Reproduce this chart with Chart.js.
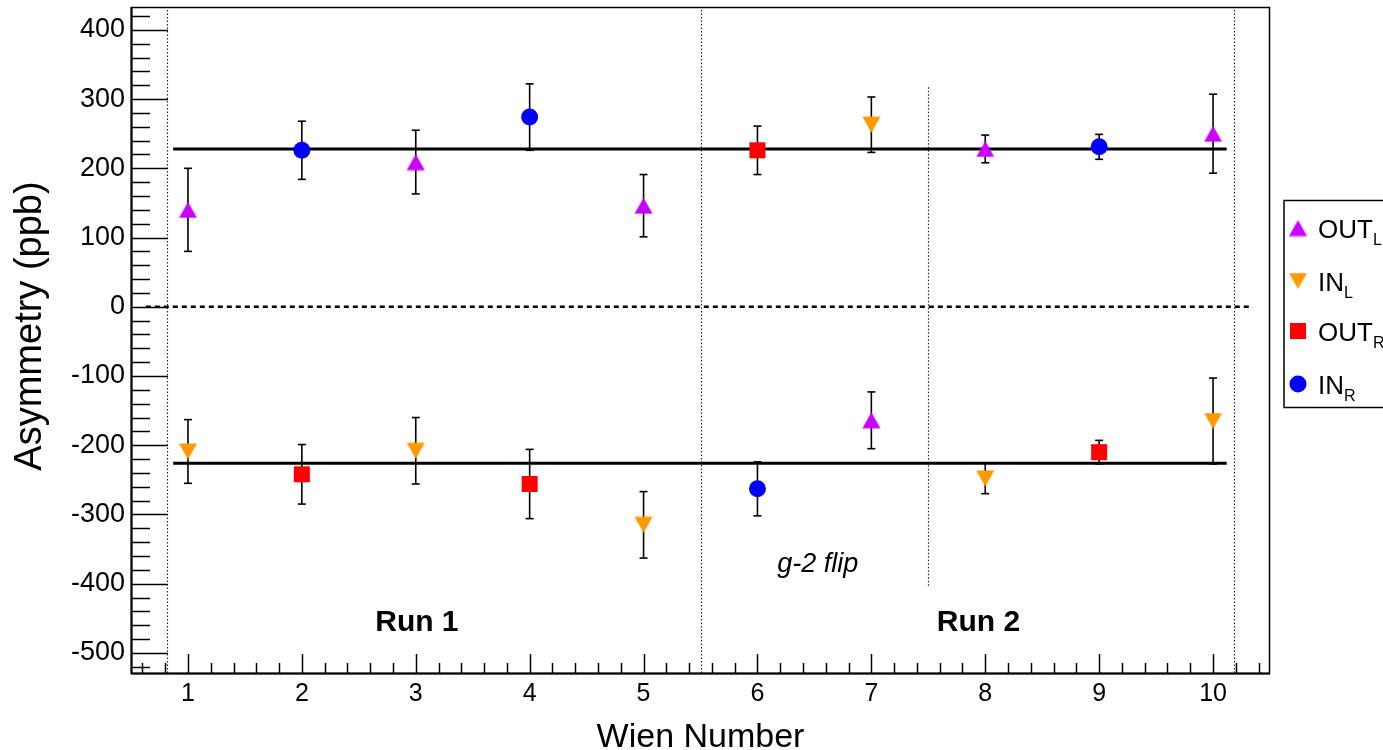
<!DOCTYPE html>
<html>
<head>
<meta charset="utf-8">
<script src="https://cdn.jsdelivr.net/npm/chart.js@4.4.1/dist/chart.umd.min.js"></script>
<style>
  html, body { margin: 0; padding: 0; background: #fff; }
</style>
</head>
<body>
<canvas id="wienChart" width="1383" height="750"></canvas>
<script>
const FONT = '"Liberation Sans", Arial, Helvetica, sans-serif';

// axis tick labels
const xTickValues = [1, 2, 3, 4, 5, 6, 7, 8, 9, 10];
const yTickValues = [-500, -400, -300, -200, -100, 0, 100, 200, 300, 400];

// asymmetry per Wien (ppb) with errors
const outL_x = [1, 3, 5, 7, 8, 10];
const outL_y = [140, 209, 146, -164, 228, 250];
const outL_err = [60, 46, 45, 41, 20, 57];

const inL_x = [1, 3, 5, 7, 8, 10];
const inL_y = [-209, -208, -315, 263, -248, -165];
const inL_err = [46, 48, 48, 40, 22, 62];

const outR_x = [2, 4, 6, 9];
const outR_y = [-242, -256, 226, -210];
const outR_err = [43, 50, 35, 17];

const inR_x = [2, 4, 6, 9];
const inR_y = [226, 274, -263, 231];
const inR_err = [42, 48, 39, 18];

// fitted average levels and the span they are drawn over
const fitLevels = [228, -226];
const fitSpan = [0.87, 10.12];
const zeroSpan = [0.63, 10.35];

// run boundaries, g-2 flip marker
const runEdges = [0.82, 5.5, 10.18];
const flipX = 7.5;
const flipSpan = [-405, 317];

const seriesNames = ['OUT', 'IN', 'OUT', 'IN'];
const seriesSubs = ['L', 'L', 'R', 'R'];
const seriesColors = ['#cc00ff', '#ff9900', '#ff0000', '#0000ff'];

// triangles centred on their bounding box (ROOT style markers)
function makeTriangle(color, up) {
  const w = 19, h = 17;
  const c = document.createElement('canvas');
  c.width = w; c.height = h;
  const g = c.getContext('2d');
  g.fillStyle = color;
  g.beginPath();
  if (up) {
    g.moveTo(w / 2, 0.5); g.lineTo(w - 0.5, h - 0.5); g.lineTo(0.5, h - 0.5);
  } else {
    g.moveTo(0.5, 0.5); g.lineTo(w - 0.5, 0.5); g.lineTo(w / 2, h - 0.5);
  }
  g.closePath();
  g.fill();
  return c;
}

const triUp = makeTriangle(seriesColors[0], true);
const triDown = makeTriangle(seriesColors[1], false);

function points(xs, ys) {
  return xs.map((x, i) => ({ x: x, y: ys[i] }));
}

function line(ctx, x1, y1, x2, y2) {
  ctx.beginPath();
  ctx.moveTo(x1, y1);
  ctx.lineTo(x2, y2);
  ctx.stroke();
}

const decorations = {
  id: 'decorations',
  beforeDatasetsDraw(chart) {
    const { ctx, chartArea: a, scales: { x, y } } = chart;
    ctx.save();

    // dotted run boundaries
    ctx.strokeStyle = '#222';
    ctx.lineWidth = 1.2;
    ctx.setLineDash([1.5, 2]);
    runEdges.forEach(v => {
      const px = Math.round(x.getPixelForValue(v)) + 0.5;
      line(ctx, px, a.top + 3, px, a.bottom);
    });
    const fx = Math.round(x.getPixelForValue(flipX)) + 0.5;
    line(ctx, fx, y.getPixelForValue(flipSpan[1]), fx, y.getPixelForValue(flipSpan[0]));

    // zero line
    ctx.strokeStyle = '#000';
    ctx.lineWidth = 2.5;
    ctx.setLineDash([5, 4]);
    const y0 = y.getPixelForValue(0);
    line(ctx, x.getPixelForValue(zeroSpan[0]), y0, x.getPixelForValue(zeroSpan[1]), y0);

    // fitted levels
    ctx.setLineDash([]);
    ctx.lineWidth = 3;
    fitLevels.forEach(v => {
      const py = y.getPixelForValue(v);
      line(ctx, x.getPixelForValue(fitSpan[0]), py, x.getPixelForValue(fitSpan[1]), py);
    });

    // error bars
    ctx.lineWidth = 1.6;
    chart.data.datasets.forEach((ds, i) => {
      const meta = chart.getDatasetMeta(i);
      ds.errors.forEach((e, j) => {
        const px = meta.data[j].x;
        const v = ds.data[j].y;
        const top = y.getPixelForValue(v + e);
        const bot = y.getPixelForValue(v - e);
        line(ctx, px, top, px, bot);
        line(ctx, px - 4, top, px + 4, top);
        line(ctx, px - 4, bot, px + 4, bot);
      });
    });

    // run labels
    ctx.fillStyle = '#000';
    ctx.textAlign = 'center';
    ctx.textBaseline = 'alphabetic';
    ctx.font = 'bold 30px ' + FONT;
    ctx.fillText('Run 1', x.getPixelForValue(3.01), y.getPixelForValue(-469));
    ctx.fillText('Run 2', x.getPixelForValue(7.94), y.getPixelForValue(-469));
    ctx.font = 'italic 27px ' + FONT;
    ctx.fillText('g-2 flip', x.getPixelForValue(6.53), y.getPixelForValue(-383));

    ctx.restore();
  },
  afterDraw(chart) {
    const { ctx, chartArea: a, scales: { x, y } } = chart;
    ctx.save();
    ctx.strokeStyle = '#000';

    // y ticks (major 100, minor 20), pointing inward
    ctx.lineWidth = 1.5;
    for (let v = -520; v <= 420; v += 20) {
      const py = Math.round(y.getPixelForValue(v)) + 0.5;
      const len = v % 100 === 0 ? 37 : 19;
      line(ctx, a.left, py, a.left + len, py);
    }
    // x ticks (major 1, minor 0.2)
    for (let k = 3; k <= 52; k++) {
      const v = k / 5;
      const px = Math.round(x.getPixelForValue(v)) + 0.5;
      const len = k % 5 === 0 ? 19 : 10;
      line(ctx, px, a.bottom, px, a.bottom - len);
    }

    // frame
    ctx.lineWidth = 1.5;
    ctx.strokeRect(a.left + 0.5, a.top + 0.5, a.right - a.left - 1, a.bottom - a.top);
    ctx.lineWidth = 2;
    line(ctx, a.left + 0.5, a.top, a.left + 0.5, a.bottom + 1);
    line(ctx, a.left, a.bottom + 0.5, a.right, a.bottom + 0.5);

    // axis titles
    ctx.fillStyle = '#000';
    ctx.font = '34px ' + FONT;
    ctx.textAlign = 'center';
    ctx.textBaseline = 'alphabetic';
    ctx.fillText('Wien Number', (a.left + a.right) / 2, 747);
    ctx.save();
    ctx.translate(41, 326);
    ctx.rotate(-Math.PI / 2);
    ctx.font = '38px ' + FONT;
    ctx.fillText('Asymmetry (ppb)', 0, 0);
    ctx.restore();

    // legend
    ctx.fillStyle = '#fff';
    ctx.fillRect(1284, 200, 110, 207);
    ctx.lineWidth = 1.5;
    ctx.strokeRect(1284, 200.5, 110, 207);
    const rows = [228, 281, 331, 384];
    chart.data.datasets.forEach((ds, i) => {
      const cy = rows[i];
      const mx = 1298;
      const style = ds.pointStyle;
      ctx.fillStyle = ds.backgroundColor;
      if (style instanceof HTMLCanvasElement) {
        ctx.drawImage(style, mx - style.width / 2, cy - style.height / 2);
      } else if (style === 'rect') {
        ctx.fillRect(mx - 8, cy - 8, 16, 16);
      } else {
        ctx.beginPath();
        ctx.arc(mx, cy, 8.5, 0, Math.PI * 2);
        ctx.fill();
      }
      ctx.fillStyle = '#000';
      ctx.textAlign = 'left';
      ctx.textBaseline = 'alphabetic';
      ctx.font = '26px ' + FONT;
      ctx.fillText(seriesNames[i], 1318, cy + 10);
      const w = ctx.measureText(seriesNames[i]).width;
      ctx.font = '16px ' + FONT;
      ctx.fillText(seriesSubs[i], 1318 + w, cy + 17);
    });

    ctx.restore();
  }
};

const ctx = document.getElementById('wienChart').getContext('2d');
const wienChart = new Chart(ctx, {
  type: 'scatter',
  data: {
    datasets: [
      {
        label: 'OUT_L',
        data: points(outL_x, outL_y),
        errors: outL_err,
        backgroundColor: seriesColors[0],
        pointStyle: triUp
      },
      {
        label: 'IN_L',
        data: points(inL_x, inL_y),
        errors: inL_err,
        backgroundColor: seriesColors[1],
        pointStyle: triDown
      },
      {
        label: 'OUT_R',
        data: points(outR_x, outR_y),
        errors: outR_err,
        backgroundColor: seriesColors[2],
        pointStyle: 'rect',
        pointRadius: 11.3
      },
      {
        label: 'IN_R',
        data: points(inR_x, inR_y),
        errors: inR_err,
        backgroundColor: seriesColors[3],
        pointStyle: 'circle',
        pointRadius: 8.5
      }
    ]
  },
  options: {
    responsive: false,
    animation: false,
    events: [],
    layout: { autoPadding: false, padding: { left: 0, top: 7, right: 113, bottom: 0 } },
    elements: {
      point: { radius: 9, hoverRadius: 9, borderWidth: 0 }
    },
    plugins: {
      legend: { display: false },
      tooltip: { enabled: false }
    },
    scales: {
      x: {
        type: 'linear',
        min: 0.5,
        max: 10.5,
        grid: { display: false, drawTicks: false },
        border: { display: false },
        afterFit: s => { s.height = 77; s.paddingLeft = 0; s.paddingRight = 0; },
        afterBuildTicks: s => { s.ticks = xTickValues.map(v => ({ value: v })); },
        ticks: {
          padding: 6,
          color: '#000',
          font: { family: FONT, size: 25 },
          maxRotation: 0,
          autoSkip: false
        }
      },
      y: {
        type: 'linear',
        min: -529,
        max: 433,
        grid: { display: false, drawTicks: false },
        border: { display: false },
        afterFit: s => { s.width = 131; s.paddingTop = 0; s.paddingBottom = 0; },
        afterBuildTicks: s => { s.ticks = yTickValues.map(v => ({ value: v })); },
        ticks: {
          padding: 6,
          color: '#000',
          font: { family: FONT, size: 27 },
          autoSkip: false
        }
      }
    }
  },
  plugins: [decorations]
});
</script>
</body>
</html>
